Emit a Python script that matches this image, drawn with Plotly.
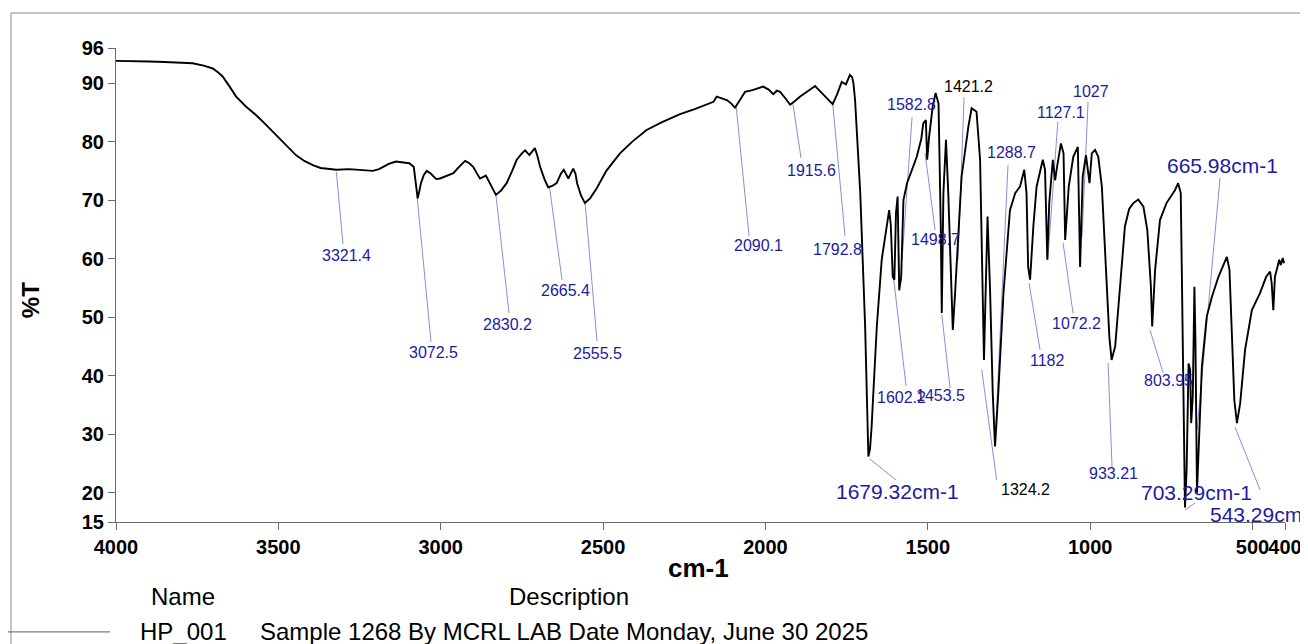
import plotly.graph_objects as go

# ---- Spectrum (wavenumber cm-1, %T) ----
wavenumber = [4000, 3950, 3898, 3850, 3800, 3764, 3730, 3702, 3685, 3671, 3650, 3630, 3600, 3569, 3540,
              3507, 3475, 3446, 3420, 3394, 3370, 3343, 3321, 3282, 3240, 3209, 3190, 3179, 3160, 3138,
              3115, 3097, 3083, 3076, 3071, 3066, 3061, 3052, 3043, 3030, 3014, 3002, 2990, 2974, 2961,
              2945, 2925, 2912, 2900, 2890, 2879, 2861, 2845, 2830, 2815, 2797, 2780, 2766, 2750, 2740,
              2727, 2718, 2710, 2702, 2694, 2680, 2669, 2655, 2643, 2630, 2621, 2607, 2598, 2592, 2585,
              2580, 2568, 2556, 2540, 2520, 2490, 2448, 2410, 2366, 2320, 2263, 2220, 2181, 2160, 2150,
              2135, 2119, 2105, 2094, 2080, 2063, 2040, 2007, 1990, 1976, 1965, 1955, 1940, 1924, 1910,
              1893, 1870, 1847, 1835, 1822, 1808, 1793, 1780, 1765, 1752, 1745, 1740, 1733, 1729, 1724,
              1719, 1708, 1693, 1686, 1683, 1678, 1673, 1665, 1657, 1642, 1627, 1622, 1619, 1614, 1608,
              1603, 1598, 1593, 1588, 1582, 1575, 1564, 1550, 1534, 1520, 1514, 1506, 1502, 1496, 1485,
              1476, 1467, 1460, 1457, 1452, 1444, 1437, 1428, 1423, 1416, 1396, 1375, 1365, 1350, 1339,
              1331, 1327, 1322, 1316, 1308, 1300, 1293, 1283, 1267, 1247, 1231, 1216, 1203, 1196, 1191,
              1185, 1175, 1165, 1146, 1139, 1132, 1126, 1115, 1108, 1102, 1090, 1082, 1077, 1066, 1052,
              1038, 1031, 1023, 1013, 1002, 995, 985, 975, 964, 951, 941, 934, 923, 908, 893,
              880, 867, 852, 836, 824, 813, 809, 800, 785, 765, 739, 729, 721, 715, 708,
              703, 697, 692, 689, 684, 679, 676, 671, 666, 656, 641, 625, 605, 579, 571,
              564, 556, 548, 538, 523, 502, 477, 458, 446, 441, 436, 431, 424, 418, 413,
              407, 403]
transmittance = [93.8, 93.8, 93.7, 93.6, 93.5, 93.4, 93.0, 92.5, 91.8, 91.1, 89.4, 87.7, 86.0, 84.55, 83.0,
                 81.1, 79.3, 77.7, 76.7, 76.0, 75.5, 75.3, 75.2, 75.3, 75.1, 75.0, 75.3, 75.6, 76.2, 76.6,
                 76.5, 76.3, 75.7, 73.0, 70.3, 71.5, 72.9, 74.3, 75.0, 74.5, 73.6, 73.7, 74.0, 74.3, 74.6,
                 75.6, 76.7, 76.3, 75.7, 74.7, 73.7, 74.2, 72.5, 70.9, 71.6, 72.9, 75.0, 76.9, 78.0, 78.5,
                 77.7, 78.4, 78.9, 77.5, 75.7, 73.5, 72.2, 72.5, 72.9, 74.5, 75.2, 73.7, 74.8, 75.4, 74.5,
                 72.9, 70.8, 69.5, 70.3, 72.0, 75.0, 78.0, 80.0, 82.0, 83.3, 84.7, 85.5, 86.3, 86.8, 87.7,
                 87.4, 87.1, 86.5, 85.8, 87.0, 88.5, 88.8, 89.4, 88.9, 88.1, 88.7, 88.5, 87.5, 86.3, 86.9,
                 87.7, 88.6, 89.5, 88.8, 88.0, 87.3, 86.4, 88.0, 90.2, 89.8, 90.6, 91.4, 91.0, 90.0, 87.1,
                 82.6, 71.2, 48.4, 34.0, 26.2, 27.5, 31.3, 40.0, 48.4, 59.8, 64.9, 66.5, 68.3, 65.8, 56.9,
                 56.4, 67.8, 70.6, 54.6, 56.9, 70.0, 72.9, 75.0, 77.4, 80.5, 83.1, 83.7, 76.9, 80.8, 86.0,
                 88.3, 86.5, 65.5, 50.7, 71.2, 80.3, 71.2, 55.0, 47.8, 54.1, 74.0, 82.6, 85.7, 85.1, 76.9,
                 54.1, 42.7, 54.1, 67.2, 54.1, 37.0, 27.9, 37.0, 54.1, 68.3, 71.2, 72.3, 75.2, 71.2, 58.6,
                 56.4, 65.5, 72.3, 76.9, 75.2, 59.8, 69.5, 76.9, 73.4, 75.7, 79.7, 78.0, 63.2, 72.3, 77.4,
                 79.1, 58.6, 74.0, 77.7, 72.9, 78.0, 78.6, 77.4, 72.3, 58.1, 46.7, 42.7, 45.0, 55.2, 65.5,
                 68.5, 69.5, 70.1, 68.9, 64.9, 55.2, 48.4, 58.1, 66.6, 69.5, 71.7, 72.9, 71.2, 50.1, 17.5,
                 23.9, 42.1, 41.0, 31.9, 36.4, 55.2, 46.7, 20.0, 27.3, 41.5, 50.1, 53.5, 56.9, 60.3, 58.1,
                 47.2, 35.8, 31.9, 35.3, 44.4, 51.2, 54.1, 56.9, 57.8, 55.8, 51.2, 56.9, 58.4, 59.8, 58.9,
                 60.1, 59.2]

# ---- Peak labels ----
peak_text = ["3321.4", "3072.5", "2830.2", "2665.4", "2555.5", "2090.1", "1915.6", "1792.8",
             "1679.32cm-1", "1602.2", "1453.5", "1582.8", "1498.7", "1421.2", "1324.2", "1288.7",
             "1182", "1127.1", "1027", "1072.2", "933.21", "803.95", "665.98cm-1", "703.29cm-1",
             "543.29cm-1"]
# label anchor (wavenumber, %T)
label_wn = [3291.7, 3023.7, 2795.8, 2617.2, 2518.7, 2022.8, 1859.6, 1779.5,
            1594.8, 1582.4, 1462.3, 1551.6, 1477.7, 1376.1, 1200.5, 1243.7,
            1132.8, 1089.7, 997.3, 1043.5, 929.5, 760.2, 593.9, 674.0, 461.4]
label_t = [60.6, 44.05, 48.67, 54.48, 43.88, 62.17, 75.15, 61.65,
           20.13, 36.36, 36.7, 86.43, 63.36, 89.5, 20.47, 78.06,
           42.68, 85.06, 88.65, 48.84, 23.37, 39.1, 76.0, 19.96, 16.2]
# leader lines: start (wn, %T) -> end (wn, %T)
lead_wn0 = [3321.4, 3072.5, 2830.2, 2665.4, 2555.5, 2090.1, 1915.6, 1792.8,
            1679.3, 1605.0, 1457.0, 1579.3, 1508.5, 1388.4, 1333.9, 1253.0,
            1188.2, 1099.6, 1006.5, 1083.5, 944.9, 815.6, 600.0, 707.8, 553.8]
lead_t0 = [74.8, 70.5, 71.0, 72.4, 69.6, 86.0, 86.5, 86.5,
           25.8, 56.5, 50.5, 59.8, 78.06, 87.6, 41.0, 76.0,
           55.84, 83.4, 86.8, 62.7, 42.2, 47.8, 73.8, 17.05, 31.2]
lead_wn1 = [3300.9, 3029.9, 2789.7, 2626.4, 2518.7, 2050.5, 1890.4, 1754.9,
            1597.8, 1567.0, 1431.5, 1548.5, 1477.7, 1406.9, 1288.0, 1293.0,
            1154.3, 1130.5, 1025.0, 1052.7, 932.6, 775.6, 670.8, 677.0, 476.8]
lead_t1 = [62.5, 45.76, 50.72, 56.36, 45.93, 63.87, 77.2, 63.87,
           22.18, 38.24, 37.9, 84.2, 64.9, 59.8, 22.2, 28.5,
           44.4, 59.8, 63.7, 50.7, 24.4, 40.5, 30.7, 18.25, 20.5]
label_big = ["1679.32cm-1", "665.98cm-1", "703.29cm-1", "543.29cm-1"]
label_black = ["1421.2", "1324.2"]

x_ticks = [4000, 3500, 3000, 2500, 2000, 1500, 1000, 500, 400]
y_ticks = [15, 20, 30, 40, 50, 60, 70, 80, 90, 96]

FONT = "Liberation Sans, Arial, sans-serif"
BLUE = "#1c1ca0"
LEAD = "#8c8cdc"
AXC = "#6a6a6a"

fig = go.Figure()

lx, ly = [], []
for a, b, c, d in zip(lead_wn0, lead_t0, lead_wn1, lead_t1):
    lx += [a, c, None]
    ly += [b, d, None]
fig.add_trace(go.Scatter(x=lx, y=ly, mode="lines", line=dict(color=LEAD, width=1),
                         hoverinfo="skip", showlegend=False))
fig.add_trace(go.Scatter(x=wavenumber, y=transmittance, mode="lines",
                         line=dict(color="black", width=1.9), showlegend=False))

annotations = []
for t, xw, yt in zip(peak_text, label_wn, label_t):
    big = t in label_big
    annotations.append(dict(
        x=xw, y=yt, xref="x", yref="y", text=t, showarrow=False,
        xanchor="center", yanchor="middle",
        font=dict(family=FONT, size=21 if big else 16,
                  color="black" if t in label_black else BLUE)))

# axis titles
annotations.append(dict(x=0.498, y=-0.097, xref="paper", yref="paper", text="cm-1",
                        showarrow=False, xanchor="center", yanchor="middle",
                        font=dict(family=FONT, size=26, color="black", weight="bold")))
annotations.append(dict(x=-0.0736, y=0.468, xref="paper", yref="paper", text="%T",
                        showarrow=False, xanchor="center", yanchor="middle", textangle=-90,
                        font=dict(family=FONT, size=24, color="black", weight="bold")))
# legend block
leg_font = dict(family=FONT, size=24, color="black")
annotations += [
    dict(x=0.0573, y=-0.1582, xref="paper", yref="paper", text="Name", showarrow=False,
         xanchor="center", yanchor="middle", font=leg_font),
    dict(x=0.3875, y=-0.1582, xref="paper", yref="paper", text="Description", showarrow=False,
         xanchor="center", yanchor="middle", font=leg_font),
    dict(x=0.0577, y=-0.230, xref="paper", yref="paper", text="HP_001", showarrow=False,
         xanchor="center", yanchor="middle", font=leg_font),
    dict(x=0.1215, y=-0.230, xref="paper", yref="paper",
         text="Sample 1268 By MCRL LAB Date Monday, June 30 2025", showarrow=False,
         xanchor="left", yanchor="middle", font=leg_font),
]

shapes = [
    dict(type="line", xref="paper", yref="paper", x0=-0.0898, x1=-0.0898, y0=1.0738, y1=-0.26,
         line=dict(color="#c4c4c4", width=2)),
    dict(type="line", xref="paper", yref="paper", x0=-0.0898, x1=1.03, y0=1.0738, y1=1.0738,
         line=dict(color="#c4c4c4", width=2)),
    dict(type="line", xref="paper", yref="paper", x0=-0.0992, x1=-0.0051, y0=-0.232, y1=-0.232,
         line=dict(color="#7a7a7a", width=1.2)),
]

# page body has an 8px margin: size the figure so the plot lands where the reference has it
fig.update_layout(
    width=1300, height=636,
    margin=dict(l=108, r=23, t=40, b=122),
    paper_bgcolor="white", plot_bgcolor="white",
    annotations=annotations, shapes=shapes,
    showlegend=False,
    xaxis=dict(range=[4000, 400], tickvals=x_ticks, ticktext=[str(v) for v in x_ticks],
               ticks="outside", ticklen=7, tickcolor=AXC, tickwidth=1, tickangle=0,
               automargin=False,
               showline=True, linecolor=AXC, linewidth=1.2, showgrid=False, zeroline=False,
               tickfont=dict(family=FONT, size=20, color="black", weight="bold")),
    yaxis=dict(range=[15, 96], tickvals=y_ticks, ticktext=[str(v) for v in y_ticks],
               ticks="outside", ticklen=7, tickcolor=AXC, tickwidth=1,
               automargin=False,
               showline=True, linecolor=AXC, linewidth=1.2, showgrid=False, zeroline=False,
               tickfont=dict(family=FONT, size=20, color="black", weight="bold")),
)

fig.write_html("out.html")
